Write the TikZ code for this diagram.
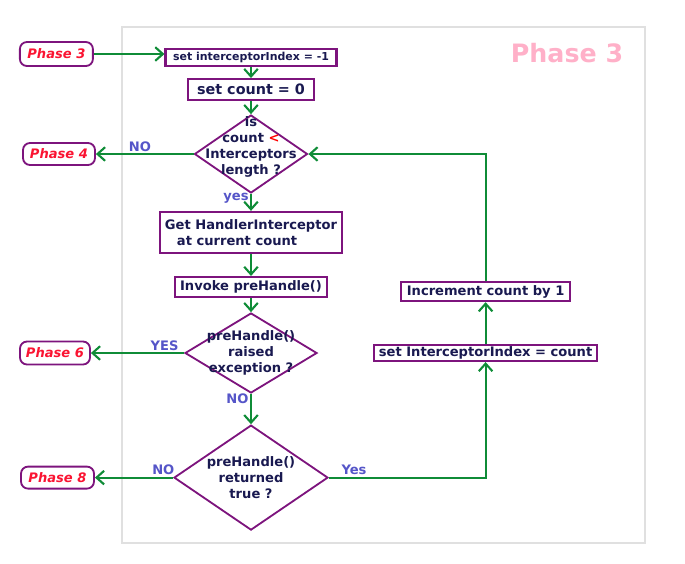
\documentclass[tikz,border=0pt]{standalone}
\usepackage{fontspec}
\setmainfont{DejaVu Sans}
\usetikzlibrary{shapes.geometric,arrows.meta}
\definecolor{flowgreen}{RGB}{15,140,55}
\definecolor{boxpurple}{RGB}{125,20,125}
\definecolor{textnavy}{RGB}{25,25,80}
\definecolor{lblblue}{RGB}{85,85,200}
\definecolor{phasered}{RGB}{250,20,50}
\definecolor{titlepink}{RGB}{255,176,200}

\begin{document}
\begin{tikzpicture}[
        font=\fontsize{9.3}{11.4}\selectfont\bfseries,
        txt/.style={text=textnavy, align=center},
        act/.style={draw=boxpurple, line width=1.5pt, text=textnavy,
                    inner sep=0pt, align=center},
        dec/.style={diamond, draw=boxpurple, line width=1.3pt, inner sep=0pt},
        phase/.style={draw=boxpurple, line width=1.3pt, rounded corners=5pt,
                      text=phasered, inner sep=0pt,
                      font=\fontsize{9.3}{11.4}\selectfont\bfseries\itshape},
        flow/.style={draw=flowgreen, line width=1.5pt,
                     -{Straight Barb[length=1.9mm,width=3.4mm]}},
        lbl/.style={text=lblblue, inner sep=1pt},
    ]
    \useasboundingbox (0,0) rectangle (17.125,-14.075);
    \draw[black!12, line width=0.8pt] (3.05,-0.675) rectangle (16.125,-13.575);

    \node[text=titlepink, font=\fontsize{18}{20}\selectfont\bfseries] (title)
        at (14.175,-1.325) {Phase 3};

    % main column
    \node[act, minimum width=4.275cm, minimum height=0.425cm,
          font=\fontsize{7.8}{9}\selectfont\bfseries] (setidx)
        at (6.275,-1.44) {set interceptorIndex = -1};
    \node[act, minimum width=3.15cm, minimum height=0.525cm,
          font=\fontsize{10.2}{12}\selectfont\bfseries] (setcnt)
        at (6.275,-2.24) {set count = 0};
    \node[dec, minimum width=2.825cm, minimum height=1.95cm,
          label={[txt, yshift=0.17cm]center:{is\\count {\color{red}<}\\Interceptors\\length ?}}]
        (iscnt) at (6.275,-3.85) {};
    \node[act, minimum width=4.55cm, minimum height=1.025cm, align=left] (gethi)
        at (6.275,-5.81) {Get HandlerInterceptor\\\hspace{0.3cm}at current count};
    \node[act, minimum width=3.8cm, minimum height=0.5cm] (invoke)
        at (6.275,-7.175) {Invoke preHandle()};
    \node[dec, minimum width=3.3cm, minimum height=2cm,
          label={[txt]center:{preHandle()\\raised\\exception ?}}]
        (raised) at (6.275,-8.825) {};
    \node[dec, minimum width=3.85cm, minimum height=2.625cm,
          label={[txt]center:{preHandle()\\returned\\true ?}}]
        (rettrue) at (6.275,-11.94) {};

    % loop column
    \node[act, minimum width=5.575cm, minimum height=0.4cm] (setidx2)
        at (12.14,-8.825) {set InterceptorIndex = count};
    \node[act, minimum width=4.225cm, minimum height=0.475cm] (incr)
        at (12.14,-7.29) {Increment count by 1};

    % phases
    \node[phase, minimum width=1.825cm, minimum height=0.6cm] (ph3)
        at (1.41,-1.35) {Phase 3};
    \node[phase, minimum width=1.8cm, minimum height=0.55cm] (ph4)
        at (1.475,-3.85) {Phase 4};
    \node[phase, minimum width=1.75cm, minimum height=0.575cm] (ph6)
        at (1.375,-8.825) {Phase 6};
    \node[phase, minimum width=1.825cm, minimum height=0.55cm] (ph8)
        at (1.4375,-11.94) {Phase 8};

    \draw[flow] (ph3.east) -- (ph3.east -| setidx.west);
    \draw[flow] (setidx.south) -- (setcnt.north);
    \draw[flow] (setcnt.south) -- (iscnt.north);
    \draw[flow] (iscnt.west) -- node[lbl, above, pos=0.55] {NO} (ph4.east);
    \draw[flow] (iscnt.south) -- node[lbl, left, pos=0.25] {yes} (gethi.north);
    \draw[flow] (gethi.south) -- (invoke.north);
    \draw[flow] (invoke.south) -- (raised.north);
    \draw[flow] (raised.west) -- node[lbl, above, pos=0.21] {YES} (ph6.east);
    \draw[flow] (raised.south) -- node[lbl, left, pos=0.16] {NO} (rettrue.north);
    \draw[flow] (rettrue.west) -- node[lbl, above, pos=0.125] {NO} (ph8.east);
    \draw[flow] (rettrue.east) -| node[lbl, above, pos=0.08] {Yes} (setidx2.south);
    \draw[flow] (setidx2.north) -- (incr.south);
    \draw[flow] (incr.north) |- (iscnt.east);

\end{tikzpicture}
\end{document}
